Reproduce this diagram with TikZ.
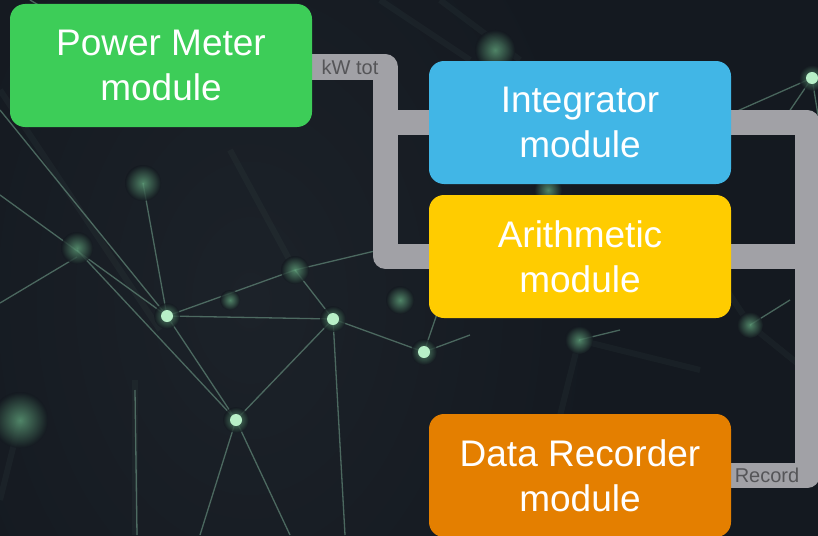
\documentclass[tikz,border=0pt]{standalone}
\usepackage{fontspec}
\setmainfont{Liberation Sans}
\definecolor{bg}{HTML}{141920}
\definecolor{bgmid}{HTML}{1C2229}
\definecolor{netc}{HTML}{7FB39A}
\definecolor{glowc}{HTML}{5E9E78}
\definecolor{nodec}{HTML}{B8F0C8}
\definecolor{barg}{HTML}{A1A1A6}
\definecolor{lblg}{HTML}{555558}
\definecolor{pmgreen}{HTML}{3DCD58}
\definecolor{inblue}{HTML}{41B6E6}
\definecolor{aryellow}{HTML}{FFCC00}
\definecolor{drorange}{HTML}{E47F00}
\pgfdeclarelayer{back}
\pgfdeclarelayer{bars}
\pgfsetlayers{back,bars,main}
\begin{document}
\begin{tikzpicture}[x=1pt,y=-1pt,
  box/.style={rounded corners=15pt, minimum width=302pt, minimum height=123pt,
    inner sep=0pt, align=center, text=white, font=\fontsize{37}{45}\selectfont},
  conn/.style={draw=barg, line width=25pt, line join=round},
  lbl/.style={text=lblg, font=\fontsize{20}{24}\selectfont, inner sep=0pt},
  net/.style={draw=netc, line width=1.3pt, opacity=0.5},
  netw/.style={draw=netc, line width=6pt, opacity=0.05},
]
\useasboundingbox (0,0) rectangle (818,535);
\clip (0,0) rectangle (818,535);
\begin{pgfonlayer}{back}
% background
\fill[bg] (-5,-5) rectangle (823,540);
\shade[inner color=bgmid, outer color=bg] (-100,-200) rectangle (600,800);
% blurred network lines
\foreach \a/\b in {{(0,90)}/{(160,330)},{(380,0)}/{(470,60)},{(440,0)}/{(520,60)},{(135,380)}/{(135,535)},
  {(579,340)}/{(530,535)},{(750,325)}/{(818,380)},{(750,325)}/{(700,250)},{(579,340)}/{(700,370)},
  {(548,190)}/{(470,120)},{(548,190)}/{(640,260)},{(20,420)}/{(0,500)},{(295,270)}/{(230,150)}}{
  \draw[netw] \a -- \b;
}
\foreach \a/\b in {{(0,195)}/{(167,316)},{(0,110)}/{(167,316)},{(143,183)}/{(167,316)},{(167,316)}/{(333,319)},
  {(167,316)}/{(295,270)},{(167,316)}/{(236,420)},{(77,250)}/{(236,420)},{(0,303)}/{(77,257)},
  {(333,319)}/{(236,420)},{(333,319)}/{(424,352)},{(333,319)}/{(295,270)},{(333,319)}/{(345,535)},
  {(424,352)}/{(440,305)},{(424,352)}/{(470,335)},{(295,270)}/{(400,245)},{(236,420)}/{(200,535)},
  {(236,420)}/{(290,535)},{(135,390)}/{(137,535)},{(812,78)}/{(735,112)},{(812,78)}/{(780,125)},
  {(812,78)}/{(818,115)},{(750,325)}/{(790,300)},{(579,340)}/{(620,330)},{(30,0)}/{(150,70)}}{
  \draw[net] \a -- \b;
}
% blurred glows
\foreach \p/\r in {{(77,248)}/16,{(143,183)}/18,{(295,270)}/14,{(548,190)}/14,{(579,340)}/14,
  {(750,325)}/13,{(20,420)}/28,{(495,50)}/20,{(400,300)}/14,{(230,300)}/10}{
  \shade[inner color=glowc, outer color=bg, opacity=0.8] \p circle (\r);
}
% sharp network nodes
\foreach \p in {(167,316),(333,319),(424,352),(236,420),(812,78)}{
  \shade[inner color=glowc, outer color=bg, opacity=0.8] \p circle (13);
  \fill[nodec] \p circle (6);
}
\end{pgfonlayer}
% module boxes (nodes)
\node[box, fill=pmgreen]  (pm) at (161,65.5)  {Power Meter\\module};
\node[box, fill=inblue]   (in) at (580,122.5) {Integrator\\module};
\node[box, fill=aryellow] (ar) at (580,256.5) {Arithmetic\\module};
\node[box, fill=drorange] (dr) at (580,475.5) {Data Recorder\\module};
% junction coordinates
\coordinate (j1) at (385.5,67);
\coordinate (j2) at (807,0);
% connectors (drawn behind the boxes)
\begin{pgfonlayer}{bars}
\draw[conn] (pm.east |- j1) -- (j1) -- (j1 |- ar.west) -- (ar.west);
\draw[conn] (j1 |- in.west) -- (in.west);
\draw[conn] (in.east) -- (in.east -| j2) -- (j2 |- dr.west) -- (dr.west);
\draw[conn] (ar.east) -- (ar.east -| j2);
\end{pgfonlayer}
% connector labels
\node[lbl] (kw) at (350,67) {kW tot};
\node[lbl] (rec) at (767,475.5) {Record};
\end{tikzpicture}
\end{document}
